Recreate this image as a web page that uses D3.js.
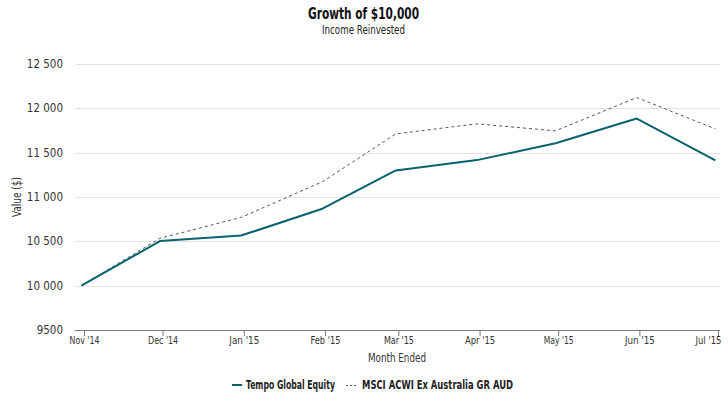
<!DOCTYPE html>
<html>
<head>
<meta charset="utf-8">
<script src="https://cdn.jsdelivr.net/npm/d3@7"></script>
<style>
  body { margin: 0; background: #fff; }
  text { font-family: "DejaVu Sans Condensed", "Liberation Sans Narrow", sans-serif; }
</style>
</head>
<body>
<svg id="chart" width="728" height="410"></svg>
<script>
// Dữ liệu
const tickMonths = ["2014-11-01", "2014-12-01", "2015-01-01", "2015-02-01", "2015-03-01",
                    "2015-04-01", "2015-05-01", "2015-06-01", "2015-07-01"];
const tickLabels = ["Nov '14", "Dec '14", "Jan '15", "Feb '15", "Mar '15",
                    "Apr '15", "May '15", "Jun '15", "Jul '15"];
const pointDates = ["2014-10-31", "2014-11-30", "2014-12-31", "2015-01-31", "2015-02-28",
                    "2015-03-31", "2015-04-30", "2015-05-31", "2015-06-30"];
const tempo = [10000, 10503, 10565, 10868, 11300, 11416, 11606, 11885, 11413];
const msci  = [10000, 10534, 10770, 11172, 11712, 11825, 11746, 12122, 11768];
const yTicks = [9500, 10000, 10500, 11000, 11500, 12000, 12500];

const parseDate = d3.timeParse("%Y-%m-%d");

const svg = d3.select("#chart");
const plot = {left: 75, right: 720, top: 64, bottom: 330};

// font hẹp: ép chiều rộng chữ cho giống bản gốc
function narrow(sel, w) {
  sel.attr("textLength", w).attr("lengthAdjust", "spacingAndGlyphs");
  return sel;
}

const x = d3.scaleTime()
  .domain([parseDate(tickMonths[0]), parseDate(tickMonths[tickMonths.length - 1])])
  .range([84, 718]);

const y = d3.scaleLinear()
  .domain([9500, 12500])
  .range([plot.bottom, plot.top]);

// Lưới ngang
svg.append("g")
  .selectAll("line")
  .data(yTicks.filter(d => d !== 9500))
  .enter().append("line")
    .attr("x1", plot.left)
    .attr("x2", plot.right)
    .attr("y1", d => Math.round(y(d)) + 0.5)
    .attr("y2", d => Math.round(y(d)) + 0.5)
    .attr("stroke", "#e3e3e3")
    .attr("stroke-width", 1);

// Trục Y (chỉ nhãn)
svg.append("g")
  .selectAll("text")
  .data(yTicks)
  .enter().append("text")
    .attr("x", 63)
    .attr("y", d => y(d) + 4)
    .attr("text-anchor", "end")
    .style("font-size", "11.5px")
    .style("fill", "#333")
    .text(d => d >= 10000 ? d3.format(",")(d).replace(",", " ") : String(d));

// Trục X
const xAxis = svg.append("g")
  .attr("transform", `translate(0,${plot.bottom})`)
  .call(d3.axisBottom(x)
    .tickValues(tickMonths.map(parseDate))
    .tickSize(6)
    .tickFormat((d, i) => tickLabels[i]));
xAxis.select(".domain").remove();
xAxis.append("line")
  .attr("x1", plot.left).attr("x2", plot.right)
  .attr("y1", 0.5).attr("y2", 0.5)
  .attr("stroke", "#7a7a7a");
xAxis.selectAll(".tick line").attr("stroke", "#7a7a7a");
xAxis.selectAll(".tick text")
  .attr("y", 7)
  .style("font-size", "10.5px")
  .style("font-family", null)
  .style("fill", "#333")
  .attr("textLength", 30)
  .attr("lengthAdjust", "spacingAndGlyphs");
// nhãn cuối dịch vào trong khung
xAxis.selectAll(".tick text").filter((d, i) => i === tickMonths.length - 1)
  .attr("text-anchor", "end")
  .attr("textLength", 26)
  .attr("x", 3);

// Đường
const line = d3.line()
  .x((d, i) => x(parseDate(pointDates[i])))
  .y(d => y(d));

svg.append("path")
  .datum(msci)
  .attr("fill", "none")
  .attr("stroke", "#555")
  .attr("stroke-width", 1)
  .attr("stroke-dasharray", "3,3")
  .attr("d", line);

svg.append("path")
  .datum(tempo)
  .attr("fill", "none")
  .attr("stroke", "#0a6170")
  .attr("stroke-width", 2)
  .attr("stroke-linejoin", "round")
  .attr("d", line);

// Tiêu đề
narrow(svg.append("text")
  .attr("x", 308).attr("y", 19)
  .style("font-size", "15px")
  .style("font-weight", "bold")
  .style("fill", "#111")
  .text("Growth of $10,000"), 111);

narrow(svg.append("text")
  .attr("x", 322).attr("y", 34)
  .style("font-size", "11.5px")
  .style("fill", "#222")
  .text("Income Reinvested"), 83);

narrow(svg.append("text")
  .attr("transform", "translate(21,217) rotate(-90)")
  .style("font-size", "11.5px")
  .style("fill", "#333")
  .text("Value ($)"), 40);

narrow(svg.append("text")
  .attr("x", 368).attr("y", 362)
  .style("font-size", "11.5px")
  .style("fill", "#333")
  .text("Month Ended"), 58);

// Chú thích
const legend = svg.append("g").attr("transform", "translate(232,385)");
legend.append("line")
  .attr("x1", 0).attr("x2", 10).attr("y1", 0).attr("y2", 0)
  .attr("stroke", "#0a6170").attr("stroke-width", 2);
narrow(legend.append("text")
  .attr("x", 14).attr("y", 4)
  .style("font-size", "11.5px").style("font-weight", "bold").style("fill", "#222")
  .text("Tempo Global Equity"), 89);
legend.append("line")
  .attr("x1", 114).attr("x2", 126).attr("y1", 0.5).attr("y2", 0.5)
  .attr("stroke", "#555").attr("stroke-width", 1).attr("stroke-dasharray", "2,2");
narrow(legend.append("text")
  .attr("x", 130).attr("y", 4)
  .style("font-size", "11.5px").style("font-weight", "bold").style("fill", "#222")
  .text("MSCI ACWI Ex Australia GR AUD"), 151);
</script>
</body>
</html>
